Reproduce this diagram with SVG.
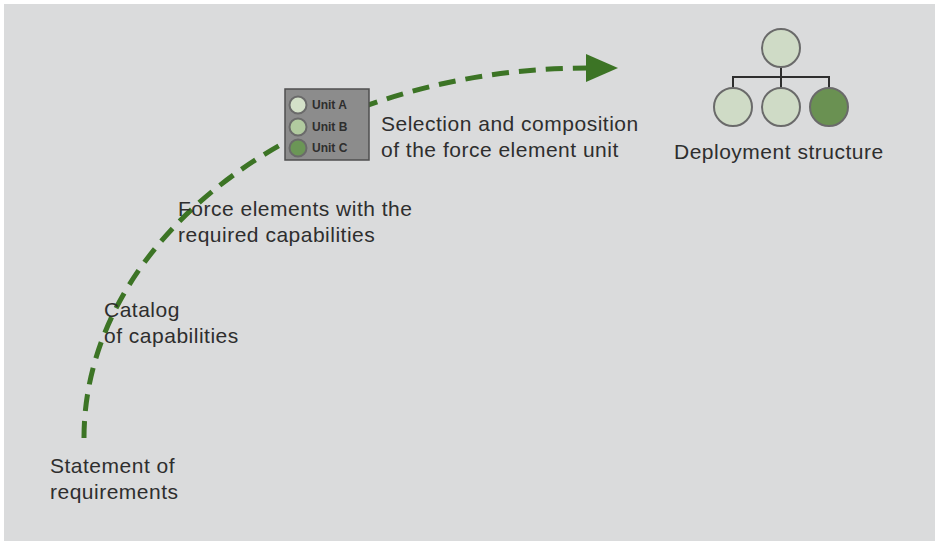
<svg xmlns="http://www.w3.org/2000/svg" width="935" height="541" viewBox="0 0 935 541">
<style>
.lbl{font-family:"Liberation Sans",Arial,sans-serif;font-size:21px;letter-spacing:0.5px;fill:#2e2e2e}
.unit{font-family:"Liberation Sans",Arial,sans-serif;font-size:12px;font-weight:bold;fill:#2e2e2e}
.nd{stroke:#6a6a6a;stroke-width:2}
.light{fill:#cfdbc6}
.dark{fill:#6a9152}
.tree{stroke:#2e2e2e;stroke-width:2;fill:none}
</style>
<defs>
<marker id="arr" markerUnits="userSpaceOnUse" markerWidth="34" markerHeight="30" refX="2" refY="15" orient="auto">
<path d="M0,1 L32,15 L0,29 Z" fill="#3c7425"/>
</marker>
</defs>
<rect x="4" y="4" width="931" height="537" fill="#dadbdc"/>
<g id="connectors">
<path d="M84,438 A504,370 0 0 1 588,68" fill="none" stroke="#3c7425" stroke-width="5" stroke-dasharray="17,10" marker-end="url(#arr)"/>
</g>
<g id="units">
<rect x="285" y="89" width="84" height="71" fill="#8c8c8c" stroke="#4f4f4f" stroke-width="1.5"/>
<circle cx="298" cy="105" r="8.5" fill="#d4e1c9" class="nd"/>
<circle cx="298" cy="127" r="8.5" fill="#b1ca9f" class="nd"/>
<circle cx="298" cy="148" r="8.5" fill="#6b9656" class="nd"/>
<text class="unit" x="312" y="109">Unit A</text>
<text class="unit" x="312" y="131">Unit B</text>
<text class="unit" x="312" y="152">Unit C</text>
</g>
<g id="deployment">
<path class="tree" d="M781,67 V77 M733,88 V77 H829 V88 M781,77 V88"/>
<circle cx="781" cy="48" r="19" class="nd light"/>
<circle cx="733" cy="107" r="19" class="nd light"/>
<circle cx="781" cy="107" r="19" class="nd light"/>
<circle cx="829" cy="107" r="19" class="nd dark"/>
<text class="lbl" x="674" y="159">Deployment structure</text>
</g>
<g id="selection"><text class="lbl" x="381" y="131">Selection and composition</text><text class="lbl" x="381" y="157">of the force element unit</text></g>
<g id="force"><text class="lbl" x="178" y="216">Force elements with the</text><text class="lbl" x="178" y="242">required capabilities</text></g>
<g id="catalog"><text class="lbl" x="104" y="317">Catalog</text><text class="lbl" x="104" y="343">of capabilities</text></g>
<g id="statement"><text class="lbl" x="50" y="473">Statement of</text><text class="lbl" x="50" y="499">requirements</text></g>
</svg>
